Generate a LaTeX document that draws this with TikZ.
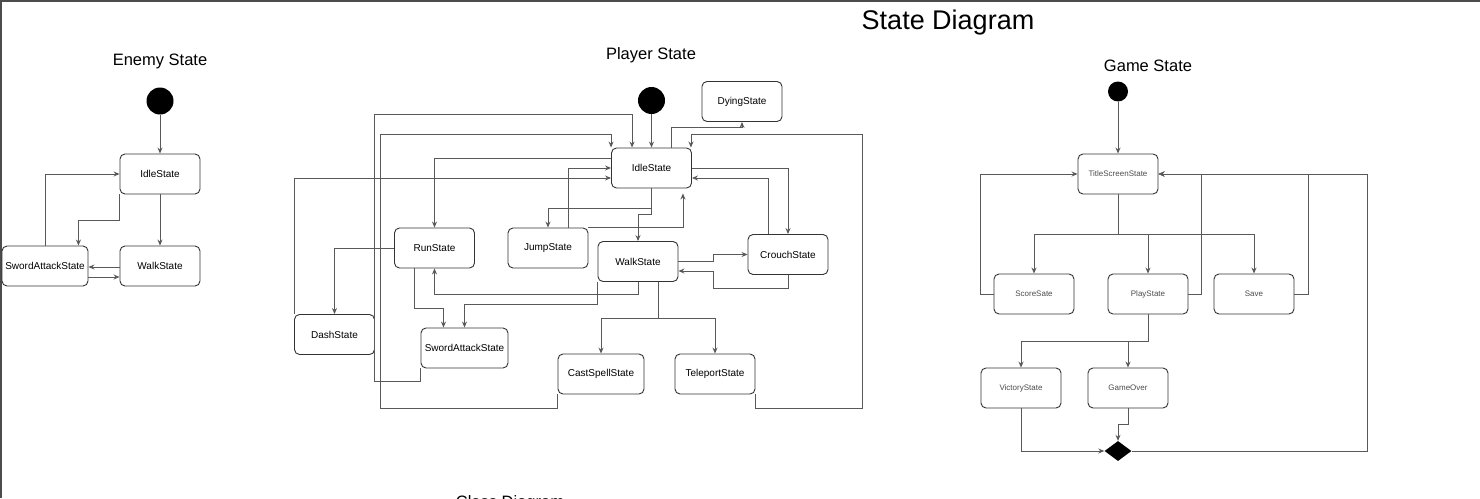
\documentclass[tikz,border=0pt]{standalone}
\usepackage{fontspec}
\setmainfont{Liberation Sans}
\usetikzlibrary{arrows.meta,shapes.geometric}
\begin{document}
\begin{tikzpicture}[x=1pt,y=-1pt,>={Stealth[length=6pt,width=5pt]},
  state/.style={draw=black!80,line width=0.9pt,rounded corners=5pt,minimum width=80pt,minimum height=40pt,inner sep=0pt,font=\fontsize{10}{12}\selectfont},
  gstate/.style={state,text=black!70,font=\fontsize{8}{10}\selectfont},
  init/.style={circle,fill=black,inner sep=0pt,minimum size=#1},
  heading/.style={font=\fontsize{16.5}{19}\selectfont},
  trans/.style={->,draw=black!65,line width=0.9pt}]
\useasboundingbox (0,0) rectangle (1480,498);
\clip (0,0) rectangle (1480,498);
\draw[line width=1.5pt,draw=black!70] (0.75,498) -- (0.75,0.75) -- (1480,0.75);
\node[font=\fontsize{27}{30}\selectfont] (tMain) at (948,22.5) {State Diagram};
\node[heading] (tEnemy) at (160,61.5) {Enemy State};
\node[heading] (tPlayer) at (651,55.5) {Player State};
\node[heading] (tGame) at (1148,65.5) {Game State};
\node[heading,anchor=base] (tClass) at (510,507) {Class Diagram};

\node[init=27pt] (eInit) at (160,101) {};
\node[state] (eIdle) at (160,174) {IdleState};
\node[state] (eWalk) at (160,266) {WalkState};
\node[state,minimum width=86pt] (eSword) at (45,266) {SwordAttackState};
\draw[trans] (eInit) -- (eIdle);
\draw[trans] (eIdle) -- (eWalk);
\draw[trans] (eIdle.south west) -- ++(0,26) -| ([xshift=-10pt]eSword.north east);
\draw[trans] (eSword.north) |- (eIdle.west);
\draw[trans] ([yshift=-1pt]eWalk.west) -- ([yshift=-1pt]eSword.east);
\draw[trans] ([yshift=-11pt]eSword.east) -- ([yshift=-11pt]eWalk.west);

\node[init=27pt] (pInit) at (651.5,100.5) {};
\node[state] (pIdle) at (651.5,168) {IdleState};
\node[state] (pDying) at (742,101.5) {DyingState};
\node[state] (pRun) at (434.5,248) {RunState};
\node[state] (pJump) at (548,248) {JumpState};
\node[state] (pDash) at (334.5,334.5) {DashState};
\node[state,minimum width=87pt] (pSword) at (464.5,348) {SwordAttackState};
\node[state] (pWalk) at (638,261.5) {WalkState};
\node[state] (pCrouch) at (788,254.5) {CrouchState};
\node[state,minimum width=86pt] (pCast) at (601,374) {CastSpellState};
\node[state] (pTele) at (715,374) {TeleportState};
\draw[trans] (pInit) -- (pIdle);
\draw[trans] (pSword.south west) -- ++(0,13) -- ++(-46,0) -- ++(0,-267) -| ([xshift=21pt]pIdle.north west);
\draw[trans] (pCast.south west) -- ++(0,14) -- ++(-177,0) -- ++(0,-274) -| (pIdle.north west);
\draw[trans] ([yshift=10pt]pIdle.west) -| (pRun.north);
\draw[trans] (pDash.north west) |- ([yshift=-10pt]pIdle.west);
\draw[trans] ([xshift=20pt]pJump.north) |- (pIdle.west);
\draw[trans] (pIdle.south) -- ++(0,20) -| (pJump.north);
\draw[trans] (pIdle.south) -- ++(0,26) -| (pWalk.north);
\draw[trans] (pJump.north east) -| ([xshift=-9pt,yshift=-5pt]pIdle.south east);
\draw[trans] (pIdle.east) -| (pCrouch.north);
\draw[trans] ([xshift=-20pt]pCrouch.north) |- ([yshift=-10pt]pIdle.east);
\draw[trans] (pWalk.east) -- ++(35,0) |- (pCrouch.west);
\draw[trans] (pCrouch.south) -- ++(0,13) -- ++(-75,0) |- ([yshift=-9.5pt]pWalk.east);
\draw[trans] ([xshift=20pt]pWalk.south) -- ++(0,36) -| (pCast.north);
\draw[trans] ([xshift=20pt]pWalk.south) -- ++(0,36) -| (pTele.north);
\draw[trans] (pTele.south east) -- ++(0,14) -- ++(107,0) -- ++(0,-274) -| ([xshift=-1pt]pIdle.north east);
\draw[trans] ([xshift=20pt]pIdle.north) -- ++(0,-20) -| (pDying.south);
\draw[trans] (pWalk.south) -- ++(0,12) -| (pRun.south);
\draw[trans] (pWalk.south west) -- ++(0,22) -| (pSword.north);
\draw[trans] ([xshift=-20pt]pRun.south) -- ++(0,40) -| ([xshift=-21pt]pSword.north);
\draw[trans] (pRun.west) -| (pDash.north);

\node[init=20pt] (gInit) at (1118,91.5) {};
\node[gstate] (gTitle) at (1118,174) {TitleScreenState};
\node[gstate] (gScore) at (1034,294) {ScoreSate};
\node[gstate] (gPlay) at (1148,294) {PlayState};
\node[gstate] (gSave) at (1254,294) {Save};
\node[gstate] (gVict) at (1021,388) {VictoryState};
\node[gstate] (gOver) at (1128,388) {GameOver};
\node[diamond,fill=black,inner sep=0pt,minimum width=27pt,minimum height=20pt] (gEnd) at (1118,451) {};
\draw[trans] (gInit) -- (gTitle);
\draw[trans] (gTitle.south) -- ++(0,40) -| (gScore.north);
\draw[trans] (gTitle.south) -- ++(0,40) -| (gPlay.north);
\draw[trans] (gTitle.south) -- ++(0,40) -| (gSave.north);
\draw[trans] (gScore.west) -- ++(-13,0) |- (gTitle.west);
\draw[trans] (gPlay.east) -- ++(13,0) |- (gTitle.east);
\draw[trans] (gSave.east) -- ++(14,0) |- (gTitle.east);
\draw[trans] (gPlay.south) -- ++(0,27) -| (gVict.north);
\draw[trans] (gPlay.south) -- ++(0,27) -| (gOver.north);
\draw[trans] (gVict.south) |- (gEnd.west);
\draw[trans] (gOver.south) -- ++(0,16) -| (gEnd.north);
\draw[trans] (gEnd.east) -- ++(236,0) |- (gTitle.east);
\end{tikzpicture}
\end{document}
